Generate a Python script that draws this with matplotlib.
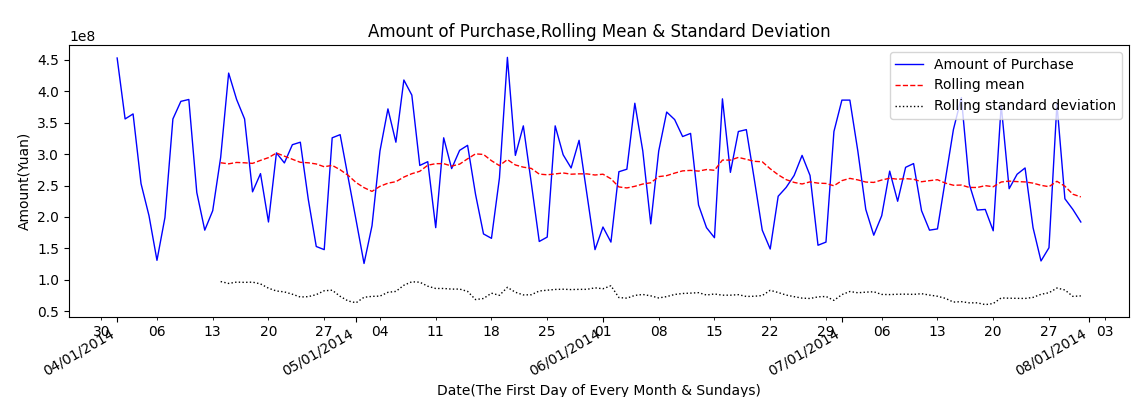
import matplotlib
matplotlib.use('Agg')
import matplotlib.pyplot as plt
import matplotlib.dates as mdates
import numpy as np
import pandas as pd

# Daily amount of purchase (unit: 1e8 Yuan), starting 2014-04-01
start_date = '2014-04-01'
amount_1e8 = [
    4.53, 3.56, 3.64, 2.53, 2.02, 1.31, 1.99, 3.56, 3.84, 3.87,
    2.39, 1.79, 2.10, 2.95, 4.29, 3.87, 3.56, 2.40, 2.69, 1.92,
    3.02, 2.86, 3.15, 3.19, 2.28, 1.53, 1.48, 3.26, 3.31, 2.63,
    1.95, 1.26, 1.86, 3.05, 3.72, 3.19, 4.18, 3.94, 2.82, 2.88,
    1.83, 3.26, 2.77, 3.06, 3.14, 2.36, 1.73, 1.66, 2.62, 4.54,
    2.98, 3.45, 2.54, 1.61, 1.68, 3.45, 2.99, 2.78, 3.22, 2.35,
    1.48, 1.84, 1.60, 2.72, 2.76, 3.81, 3.05, 1.89, 3.05, 3.67,
    3.55, 3.28, 3.33, 2.19, 1.83, 1.67, 3.88, 2.71, 3.36, 3.39,
    2.60, 1.79, 1.49, 2.33, 2.47, 2.66, 2.98, 2.66, 1.55, 1.60,
    3.36, 3.86, 3.86, 3.05, 2.12, 1.71, 2.02, 2.73, 2.25, 2.79,
    2.85, 2.10, 1.79, 1.81, 2.60, 3.39, 3.90, 2.52, 2.11, 2.12,
    1.78, 3.78, 2.45, 2.68, 2.78, 1.83, 1.30, 1.51, 3.80, 2.29,
    2.12, 1.92,
]
window = 14

dates = pd.date_range(start_date, periods=len(amount_1e8), freq='D')
series = pd.Series(np.array(amount_1e8) * 1e8, index=dates)
rol_mean = series.rolling(window).mean()
rol_std = series.rolling(window).std()

fig, ax = plt.subplots(figsize=(11.38, 3.97), dpi=100)
fig.subplots_adjust(left=0.0606, right=0.9921, bottom=0.2015, top=0.8866)

ax.plot(dates, series, color='blue', lw=1, label='Amount of Purchase')
ax.plot(dates, rol_mean, color='red', ls='--', lw=1, label='Rolling mean')
ax.plot(dates, rol_std, color='black', ls=':', lw=1, label='Rolling standard deviation')

ax.xaxis.set_major_locator(mdates.MonthLocator())
ax.xaxis.set_major_formatter(mdates.DateFormatter('%m/%d/%Y'))
ax.xaxis.set_minor_locator(mdates.WeekdayLocator(byweekday=mdates.SU))
ax.xaxis.set_minor_formatter(mdates.DateFormatter('%d'))
ax.xaxis.remove_overlapping_locs = False
for lbl in ax.get_xticklabels(which='major'):
    lbl.set_rotation(30)
    lbl.set_ha('right')

ax.set_title('Amount of Purchase,Rolling Mean & Standard Deviation')
ax.set_xlabel('Date(The First Day of Every Month & Sundays)')
ax.set_ylabel('Amount(Yuan)')
ax.legend(loc='upper right')

fig.savefig('out.png', dpi=100)
